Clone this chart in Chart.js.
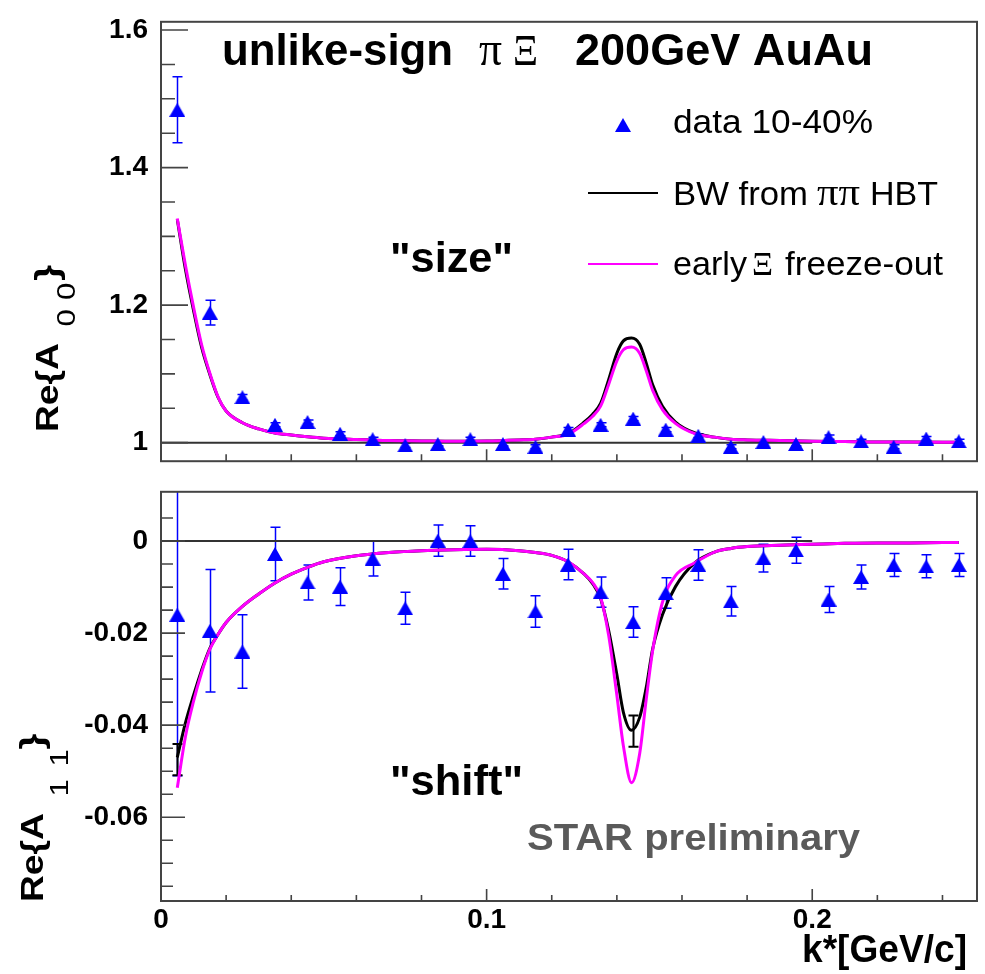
<!DOCTYPE html>
<html>
<head>
<meta charset="utf-8">
<script src="https://cdn.jsdelivr.net/npm/chart.js@4.4.1/dist/chart.umd.min.js"></script>
<style>
  html, body { margin: 0; padding: 0; background: #fff; }
  #wrap { position: relative; width: 985px; height: 974px; }
  #cTop { position: absolute; left: 0; top: 0; }
  #cBot { position: absolute; left: 0; top: 470px; }
</style>
</head>
<body>
<div id="wrap">
  <canvas id="cTop" width="985" height="483"></canvas>
  <canvas id="cBot" width="985" height="504"></canvas>
</div>
<script>
/* ── data ────────────────────────────────────────────── */
const kBins = [0.005, 0.015, 0.025, 0.035, 0.045, 0.055, 0.065, 0.075, 0.085, 0.095,
               0.105, 0.115, 0.125, 0.135, 0.145, 0.155, 0.165, 0.175, 0.185, 0.195,
               0.205, 0.215, 0.225, 0.235, 0.245];

// Re{A00} "size"
const a00    = [1.484, 1.189, 1.066, 1.026, 1.030, 1.013, 1.005, 0.996, 0.998, 1.005,
                0.998, 0.994, 1.019, 1.026, 1.035, 1.019, 1.010, 0.994, 1.001, 0.998,
                1.008, 1.002, 0.994, 1.006, 1.002];
const a00Err = [0.048, 0.018, 0.004, 0.003, 0.003, 0.003, 0.003, 0.003, 0.003, 0.003,
                0.003, 0.003, 0.003, 0.003, 0.003, 0.003, 0.003, 0.003, 0.003, 0.003,
                0.003, 0.003, 0.003, 0.003, 0.003];

// Re{A11} "shift"
const a11    = [-0.0160, -0.0195, -0.0240, -0.0028, -0.0090, -0.0099, -0.0038, -0.0146, 0.0001, 0.0000,
                -0.0071, -0.0153, -0.0051, -0.0111, -0.0176, -0.0113, -0.0052, -0.0131, -0.0037, -0.0020,
                -0.0127, -0.0078, -0.0052, -0.0055, -0.0052];
const a11Err = [0.0350, 0.0133, 0.0080, 0.0058, 0.0038, 0.0041, 0.0038, 0.0035, 0.0034, 0.0033,
                0.0033, 0.0034, 0.0033, 0.0033, 0.0033, 0.0033, 0.0033, 0.0032, 0.0030, 0.0028,
                0.0028, 0.0026, 0.0025, 0.0025, 0.0025];

// model curves
const kCurve = [0.005, 0.0075, 0.01, 0.0125, 0.015, 0.0175, 0.02, 0.025, 0.03, 0.035,
                0.04, 0.045, 0.05, 0.06, 0.07, 0.08, 0.09, 0.10, 0.11, 0.115,
                0.12, 0.125, 0.13, 0.1325, 0.135, 0.1375, 0.14, 0.142, 0.1445, 0.147,
                0.149, 0.151, 0.154, 0.158, 0.164, 0.17, 0.175, 0.18, 0.19, 0.2,
                0.21, 0.22, 0.23, 0.245];

const a00BW    = [1.325, 1.252, 1.192, 1.138, 1.099, 1.066, 1.046, 1.029, 1.020, 1.014,
                  1.011, 1.0085, 1.0065, 1.0045, 1.003, 1.0025, 1.002, 1.0025, 1.004, 1.005,
                  1.008, 1.013, 1.030, 1.041, 1.057, 1.092, 1.130, 1.148, 1.152, 1.143,
                  1.116, 1.084, 1.053, 1.030, 1.014, 1.008, 1.005, 1.004, 1.003, 1.002,
                  1.0015, 1.001, 1.001, 1.0005];
const a00Early = [1.326, 1.258, 1.197, 1.142, 1.101, 1.067, 1.046, 1.029, 1.020, 1.014,
                  1.011, 1.0085, 1.0065, 1.0045, 1.003, 1.0025, 1.002, 1.0025, 1.004, 1.005,
                  1.008, 1.012, 1.028, 1.038, 1.053, 1.085, 1.119, 1.135, 1.139, 1.130,
                  1.105, 1.076, 1.048, 1.028, 1.013, 1.008, 1.005, 1.004, 1.003, 1.002,
                  1.0015, 1.001, 1.001, 1.0005];

const a11BW    = [-0.0470, -0.0395, -0.0335, -0.0280, -0.0233, -0.0203, -0.0177, -0.0142, -0.0115, -0.0091,
                  -0.0072, -0.0057, -0.0045, -0.0032, -0.0025, -0.0021, -0.0019, -0.0018, -0.0021, -0.0025,
                  -0.0031, -0.0045, -0.0072, -0.0092, -0.0125, -0.0195, -0.0290, -0.0372, -0.0411, -0.0383,
                  -0.0319, -0.0234, -0.0160, -0.0099, -0.0047, -0.0024, -0.0016, -0.0012, -0.0009, -0.0007,
                  -0.0005, -0.0004, -0.0004, -0.0003];
const a11Early = [-0.0536, -0.0425, -0.0348, -0.0285, -0.0235, -0.0203, -0.0177, -0.0142, -0.0115, -0.0091,
                  -0.0072, -0.0057, -0.0045, -0.0032, -0.0025, -0.0021, -0.0019, -0.0018, -0.0021, -0.0025,
                  -0.0031, -0.0045, -0.0072, -0.0090, -0.0122, -0.0206, -0.0335, -0.0445, -0.0525, -0.0462,
                  -0.0345, -0.0238, -0.0133, -0.0075, -0.0047, -0.0024, -0.0016, -0.0012, -0.0009, -0.0007,
                  -0.0005, -0.0004, -0.0004, -0.0003];

// black error bars on the BW curve (bottom pad)
const kBWErr  = [0.005, 0.145];
const a11BWPt = [-0.0475, -0.0413];
const a11BWEr = [0.0034, 0.0034];

// reference lines and axes
const kRef = [0, 0.2];
const xTicks = [0, 0.1, 0.2];
const xTickLabels = ['0', '0.1', '0.2'];
const yTopTicks = [1, 1.2, 1.4, 1.6];
const yTopLabels = ['1', '1.2', '1.4', '1.6'];
const yBotTicks = [0, -0.02, -0.04, -0.06];
const yBotLabels = ['0', '-0.02', '-0.04', '-0.06'];

const X_MAX = 0.2506;
const FONT = 'Liberation Sans';

/* ── helpers ─────────────────────────────────────────── */
function steps(from, to, step) {
    const out = [];
    for (let v = from; v <= to + 1e-9; v += step) out.push(+v.toFixed(4));
    return out;
}
const xMinor = steps(0, 0.24, 0.02);
const yTopMinor = steps(1.0, 1.6, 0.05);
const yBotMinor = steps(-0.075, 0.005, 0.005);

function triangleImage(w, h, color) {
    const c = document.createElement('canvas');
    c.width = w; c.height = h;
    const g = c.getContext('2d');
    g.fillStyle = color;
    g.beginPath(); g.moveTo(w / 2, 0); g.lineTo(w, h); g.lineTo(0, h); g.closePath(); g.fill();
    return c;
}
const tri = triangleImage(16, 14, '#0000ff');

function pts(xs, ys) { return xs.map((x, i) => ({ x: x, y: ys[i] })); }

function fitText(ctx, str, x, y, w, font, color) {
    ctx.save();
    ctx.font = font; ctx.fillStyle = color;
    ctx.textAlign = 'left'; ctx.textBaseline = 'alphabetic';
    const m = ctx.measureText(str).width;
    ctx.translate(x, y); ctx.scale(w / m, 1);
    ctx.fillText(str, 0, 0);
    ctx.restore();
}

// Re{A_ij} drawn rotated, reading bottom to top
function yTitle(ctx, xb, yb, sub, subPos, subBase, bracePos) {
    ctx.save();
    ctx.translate(xb, yb); ctx.rotate(-Math.PI / 2); ctx.scale(1.2, 1);
    ctx.fillStyle = '#000'; ctx.textBaseline = 'alphabetic'; ctx.textAlign = 'left';
    ctx.font = 'bold 31px ' + FONT;
    ctx.fillText('Re{A', 0, 0);
    ctx.font = '26px ' + FONT;
    ctx.fillText(sub[0], subPos[0], subBase);
    ctx.fillText(sub[1], subPos[1], subBase);
    ctx.font = 'bold 34px ' + FONT;
    ctx.fillText('}', bracePos, 0);
    ctx.restore();
}

/* ── plugins ─────────────────────────────────────────── */
const errorBars = {
    id: 'errorBars',
    beforeDatasetsDraw(chart, args, opts) {
        const { ctx, chartArea: a, scales: { x, y } } = chart;
        ctx.save();
        ctx.beginPath(); ctx.rect(a.left, a.top, a.right - a.left, a.bottom - a.top); ctx.clip();
        (opts.sets || []).forEach(s => {
            ctx.strokeStyle = s.color; ctx.lineWidth = s.width;
            s.k.forEach((k, i) => {
                const px = Math.round(x.getPixelForValue(k)) + 0.5;
                const y1 = y.getPixelForValue(s.v[i] + s.e[i]);
                const y2 = y.getPixelForValue(s.v[i] - s.e[i]);
                ctx.beginPath();
                ctx.moveTo(px, y1); ctx.lineTo(px, y2);
                ctx.moveTo(px - 5, y1); ctx.lineTo(px + 5, y1);
                ctx.moveTo(px - 5, y2); ctx.lineTo(px + 5, y2);
                ctx.stroke();
            });
        });
        ctx.restore();
    }
};

const frameTicks = {
    id: 'frameTicks',
    afterDatasetsDraw(chart, args, o) {
        const { ctx, chartArea: a, scales: { x, y } } = chart;
        ctx.save();
        ctx.strokeStyle = '#444';
        ctx.lineWidth = 2;
        ctx.strokeRect(a.left, a.top, a.right - a.left, a.bottom - a.top);
        ctx.lineWidth = 1.6;
        ctx.beginPath();
        o.yMajor.forEach(v => { const p = y.getPixelForValue(v); ctx.moveTo(a.left, p); ctx.lineTo(a.left + o.yMajorLen, p); });
        o.yMinor.forEach(v => { const p = y.getPixelForValue(v); ctx.moveTo(a.left, p); ctx.lineTo(a.left + o.yMinorLen, p); });
        o.xMajor.forEach(v => { const p = x.getPixelForValue(v); ctx.moveTo(p, a.bottom); ctx.lineTo(p, a.bottom - o.xMajorLen); });
        o.xMinor.forEach(v => { const p = x.getPixelForValue(v); ctx.moveTo(p, a.bottom); ctx.lineTo(p, a.bottom - o.xMinorLen); });
        ctx.stroke();
        ctx.restore();
    }
};

const topText = {
    id: 'topText',
    afterDraw(chart) {
        const ctx = chart.ctx;
        const ds = chart.data.datasets;
        // title
        fitText(ctx, 'unlike-sign', 222, 65, 231, 'bold 44px ' + FONT, '#000');
        fitText(ctx, 'π', 479, 65, 23, '48px Liberation Serif', '#000');
        fitText(ctx, 'Ξ', 513, 65, 25, '44px Liberation Serif', '#000');
        fitText(ctx, '200GeV AuAu', 575, 65, 298, 'bold 44px ' + FONT, '#000');
        // legend
        ctx.drawImage(tri, 623 - 8, 125 - 7);
        fitText(ctx, ds[0].label, 673, 133, 200, '34px ' + FONT, '#000');
        ctx.save();
        ctx.lineWidth = 2;
        ctx.strokeStyle = ds[2].borderColor;
        ctx.beginPath(); ctx.moveTo(588, 193); ctx.lineTo(658, 193); ctx.stroke();
        ctx.strokeStyle = ds[1].borderColor;
        ctx.beginPath(); ctx.moveTo(588, 264); ctx.lineTo(658, 264); ctx.stroke();
        ctx.restore();
        fitText(ctx, 'BW from', 673, 205, 135, '34px ' + FONT, '#000');
        fitText(ctx, 'ππ', 817, 205, 43, '38px Liberation Serif', '#000');
        fitText(ctx, 'HBT', 870, 205, 68, '34px ' + FONT, '#000');
        fitText(ctx, 'early', 673, 275, 74, '34px ' + FONT, '#000');
        fitText(ctx, 'Ξ', 752, 275, 21, '34px Liberation Serif', '#000');
        fitText(ctx, 'freeze-out', 785, 275, 158, '34px ' + FONT, '#000');
        // annotation and axis title
        fitText(ctx, '"size"', 390, 272, 123, 'bold 42px ' + FONT, '#000');
        yTitle(ctx, 58, 432, ['0', '0'], [88, 110], 17, 126);
    }
};

const botText = {
    id: 'botText',
    afterDraw(chart) {
        const ctx = chart.ctx;
        fitText(ctx, '"shift"', 390, 325, 133, 'bold 42px ' + FONT, '#000');
        fitText(ctx, 'STAR preliminary', 527, 380, 333, 'bold 37px ' + FONT, '#5a5a5a');
        fitText(ctx, 'k*[GeV/c]', 802, 492, 165, 'bold 38px ' + FONT, '#000');
        yTitle(ctx, 43, 432, ['1', '1'], [88, 113], 25, 127);
    }
};

/* ── charts ──────────────────────────────────────────── */
const tickFont = { family: FONT, size: 28, weight: 'bold' };

new Chart(document.getElementById('cTop'), {
    type: 'line',
    data: {
        datasets: [
            { label: 'data 10-40%', data: pts(kBins, a00), showLine: false, pointStyle: tri, pointRadius: 7, order: 0 },
            { label: 'early Ξ freeze-out', data: pts(kCurve, a00Early), borderColor: '#ff00ff', borderWidth: 3, pointRadius: 0, cubicInterpolationMode: 'monotone', order: 1 },
            { label: 'BW from ππ HBT', data: pts(kCurve, a00BW), borderColor: '#000000', borderWidth: 3, pointRadius: 0, cubicInterpolationMode: 'monotone', order: 2 },
            { label: 'ref', data: pts(kRef, [1, 1]), borderColor: '#333', borderWidth: 2, pointRadius: 0, order: 3 }
        ]
    },
    options: {
        responsive: false,
        animation: false,
        layout: { padding: { top: 12, right: 2, bottom: 1, left: 0 } },
        plugins: {
            legend: { display: false },
            tooltip: { enabled: false },
            errorBars: { sets: [{ k: kBins, v: a00, e: a00Err, color: '#0000ff', width: 1.5 }] },
            frameTicks: { yMajor: yTopTicks, yMinor: yTopMinor, yMajorLen: 27, yMinorLen: 14,
                          xMajor: xTicks, xMinor: xMinor, xMajorLen: 12, xMinorLen: 7 }
        },
        scales: {
            x: { type: 'linear', min: 0, max: X_MAX, display: false },
            y: {
                type: 'linear', min: 0.973, max: 1.612,
                afterFit: s => { s.width = 161; },
                afterBuildTicks: s => { s.ticks = yTopTicks.map(v => ({ value: v })); },
                grid: { display: false }, border: { display: false },
                ticks: { padding: 5, autoSkip: false, color: '#000', font: tickFont,
                         callback: v => yTopLabels[yTopTicks.indexOf(v)] }
            }
        }
    },
    plugins: [errorBars, frameTicks, topText]
});

new Chart(document.getElementById('cBot'), {
    type: 'line',
    data: {
        datasets: [
            { label: 'data 10-40%', data: pts(kBins, a11), showLine: false, pointStyle: tri, pointRadius: 7, order: 0 },
            { label: 'early Ξ freeze-out', data: pts(kCurve, a11Early), borderColor: '#ff00ff', borderWidth: 3, pointRadius: 0, cubicInterpolationMode: 'monotone', order: 1 },
            { label: 'BW from ππ HBT', data: pts(kCurve, a11BW), borderColor: '#000000', borderWidth: 3, pointRadius: 0, cubicInterpolationMode: 'monotone', order: 2 },
            { label: 'ref', data: pts(kRef, [0, 0]), borderColor: '#333', borderWidth: 2, pointRadius: 0, order: 3 }
        ]
    },
    options: {
        responsive: false,
        animation: false,
        layout: { padding: { top: 13, right: 2, bottom: 0, left: 0 } },
        plugins: {
            legend: { display: false },
            tooltip: { enabled: false },
            errorBars: { sets: [
                { k: kBins, v: a11, e: a11Err, color: '#0000ff', width: 1.5 },
                { k: kBWErr, v: a11BWPt, e: a11BWEr, color: '#000000', width: 2 }
            ] },
            frameTicks: { yMajor: yBotTicks, yMinor: yBotMinor, yMajorLen: 24, yMinorLen: 12,
                          xMajor: xTicks, xMinor: xMinor, xMajorLen: 12, xMinorLen: 6 }
        },
        scales: {
            x: {
                type: 'linear', min: 0, max: X_MAX,
                afterFit: s => { s.height = 73; },
                afterBuildTicks: s => { s.ticks = xTicks.map(v => ({ value: v })); },
                grid: { display: false }, border: { display: false },
                ticks: { padding: -6, autoSkip: false, maxRotation: 0, color: '#000', font: tickFont,
                         callback: v => xTickLabels[xTicks.indexOf(v)] }
            },
            y: {
                type: 'linear', min: -0.0782, max: 0.0107,
                afterFit: s => { s.width = 161; },
                afterBuildTicks: s => { s.ticks = yBotTicks.map(v => ({ value: v })); },
                grid: { display: false }, border: { display: false },
                ticks: { padding: 5, autoSkip: false, color: '#000', font: tickFont,
                         callback: v => yBotLabels[yBotTicks.indexOf(v)] }
            }
        }
    },
    plugins: [errorBars, frameTicks, botText]
});
</script>
</body>
</html>
